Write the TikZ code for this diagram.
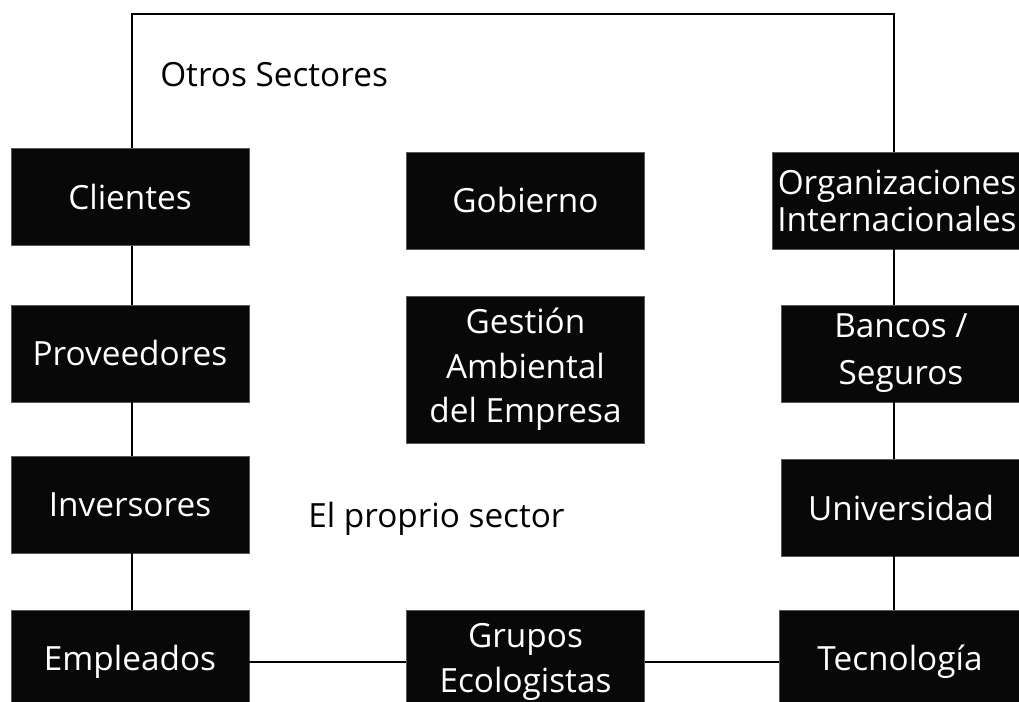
\documentclass[tikz,border=0pt]{standalone}
\usepackage{fontspec}
\setmainfont{Open Sans}
\usepackage{tikz}
\usetikzlibrary{positioning}
\definecolor{boxfill}{RGB}{8,8,8}
\definecolor{boxedge}{RGB}{90,90,90}
\tikzset{
  actor/.style={rectangle, fill=boxfill, draw=boxedge, line width=0.4pt,
                text=white, align=center, inner sep=0pt,
                minimum width=5.95cm, minimum height=2.425cm,
                font=\fontsize{23.7}{31.6}\selectfont},
  tallactor/.style={actor, minimum height=2.6cm},
  sector/.style={inner sep=0pt, font=\fontsize{23.7}{31.6}\selectfont},
  link/.style={line width=1.4pt, black},
}
\begin{document}
\begin{tikzpicture}[x=0.025cm, y=-0.025cm]
  \useasboundingbox (0,0) rectangle (1019,702);
  \clip (0,0) rectangle (1019,702);
  % left column
  \node[actor] (clientes)    at (130,197)   {Clientes};
  \node[actor] (proveedores) at (130,353.5) {Proveedores};
  \node[actor] (inversores)  at (130,504.5) {Inversores};
  \node[tallactor] (empleados) at (130,662) {Empleados};
  % middle column
  \node[actor] (gobierno) at (525.5,200.5) {Gobierno};
  \node[actor, minimum height=3.675cm] (gestion) at (525.5,369.5)
    {Gesti\'on\\Ambiental\\del Empresa};
  \node[tallactor] (grupos) at (525.5,662) {Grupos\\Ecologistas};
  % right column
  \node[actor, minimum width=6.25cm, font=\fontsize{23.7}{26.4}\selectfont]
    (organiz) at (897,200.5) {Organizaciones\\Internacionales};
  \node[actor, minimum width=6cm, font=\fontsize{23.7}{33.4}\selectfont]
    (bancos) at (901,353.5) {Bancos /\\Seguros};
  \node[actor, minimum width=6cm] (univ)   at (901,507.5) {Universidad};
  \node[tallactor, minimum width=6.05cm] (tecno) at (900,662) {Tecnolog\'ia};
  % sector labels
  \node[sector, anchor=base west] (otros)  at (160,87)  {Otros Sectores};
  \node[sector, anchor=base west] (propio) at (308,527) {El proprio sector};
  % frame and links
  \coordinate (lt) at (132,14);
  \coordinate (rt) at (894,14);
  \draw[link] (clientes.north -| lt) -- (lt) -- (rt) -- (organiz.north -| rt);
  \draw[link] (clientes.south -| lt) -- (proveedores.north -| lt);
  \draw[link] (proveedores.south -| lt) -- (inversores.north -| lt);
  \draw[link] (inversores.south -| lt) -- (empleados.north -| lt);
  \draw[link] (organiz.south -| rt) -- (bancos.north -| rt);
  \draw[link] (bancos.south -| rt) -- (univ.north -| rt);
  \draw[link] (univ.south -| rt) -- (tecno.north -| rt);
  \draw[link] (empleados.east) -- (grupos.west);
  \draw[link] (grupos.east) -- (tecno.west);
\end{tikzpicture}
\end{document}
